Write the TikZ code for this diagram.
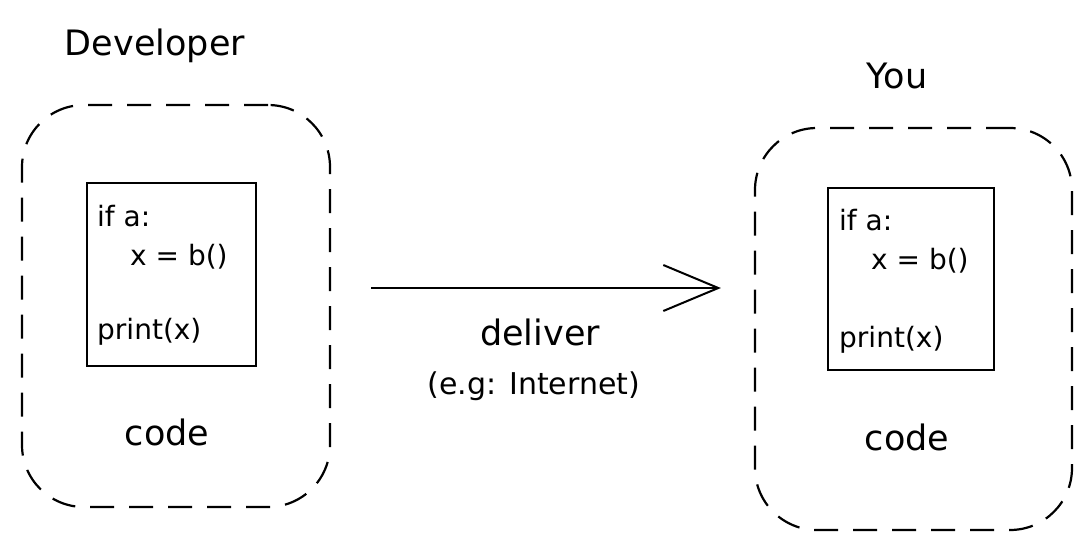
\documentclass[tikz,border=0pt]{standalone}
\usepackage{fontspec}
\setmainfont{DejaVu Sans}
\usetikzlibrary{arrows.meta}
\begin{document}
\begin{tikzpicture}[x=1pt,y=-1pt,
  outerbox/.style={draw, line width=2.2pt, dash pattern=on 24pt off 15pt, rounded corners=62pt},
  innerbox/.style={draw, line width=2pt},
  codeline/.style={anchor=west, font=\fontsize{28}{30}\selectfont, inner sep=0pt},
  title/.style={font=\fontsize{35}{38}\selectfont, inner sep=0pt},
  caption/.style={font=\fontsize{35}{38}\selectfont, inner sep=0pt},
  delivery/.style={-{Straight Barb[length=55pt,width=46pt,line width=2pt]}, line width=2pt}]
\useasboundingbox (0,0) rectangle (1090,550);
% left side
\node[outerbox, minimum width=308pt, minimum height=402pt] (devouter) at (176,306) {};
\node[innerbox, minimum width=169pt, minimum height=183pt] (devcode) at (171.5,274.5) {};
\node[codeline] (dev1) at (97,216) {if a:};
\node[codeline] (dev2) at (130,257) {x = b()};
\node[codeline] (dev3) at (97,332) {print(x)};
\node[caption] (devcap) at (167,432) {code};
\node[title] (devtitle) at (155,46) {Developer};
% right side
\node[outerbox, minimum width=317pt, minimum height=402pt] (yououter) at (913.5,329) {};
\node[innerbox, minimum width=166pt, minimum height=182pt] (youcode) at (911,279) {};
\node[codeline] (you1) at (839,220) {if a:};
\node[codeline] (you2) at (871,261) {x = b()};
\node[codeline] (you3) at (839,340) {print(x)};
\node[caption] (youcap) at (907,437) {code};
\node[title] (youtitle) at (897,76) {You};
% arrow
\coordinate (arr) at (500,288);
\draw[delivery, shorten <=40pt, shorten >=33pt] (devouter.east |- arr) -- (yououter.west |- arr);
\node[caption] (deliver) at (540,332) {deliver};
\node[font=\fontsize{30}{32}\selectfont, inner sep=0pt] (via) at (534,386) {(e.g: Internet)};
\end{tikzpicture}
\end{document}
